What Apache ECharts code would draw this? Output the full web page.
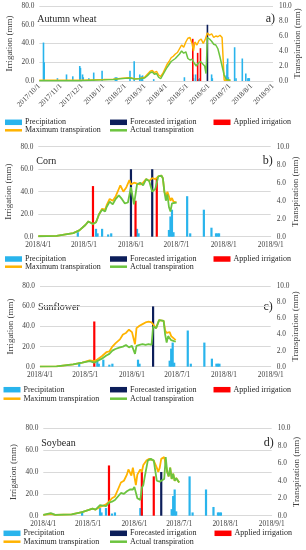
<!DOCTYPE html>
<html>
<head>
<meta charset="utf-8">
<script src="https://cdn.jsdelivr.net/npm/echarts@6/dist/echarts.min.js"></script>
<style>html,body{margin:0;padding:0;background:#fff}#c{width:306px;height:550px}</style>
</head>
<body>
<div id="c"></div>
<script>
// ---------- DATA ----------
var irrigationTicks = [0, 20, 40, 60, 80];
var transpirationTicks = [0, 2, 4, 6, 8, 10];

var precipitation = [
  ['2017-10-07',41],['2017-10-08',20],['2017-10-27',3],['2017-11-09',7],['2017-11-18',5],
  ['2017-11-28',16],['2017-11-29',14],['2017-12-02',7],['2017-12-03',4],['2017-12-11',3],
  ['2017-12-18',9],['2017-12-30',11],['2018-01-18',4],['2018-01-20',4],['2018-02-08',11],
  ['2018-02-14',21],['2018-02-22',7],['2018-02-24',5],['2018-02-26',6],['2018-03-14',2],
  ['2018-04-27',4],['2018-05-09',7],['2018-05-10',3],['2018-05-13',7],['2018-05-17',2],
  ['2018-05-19',3],['2018-06-05',7],['2018-06-06',3],['2018-06-26',6],['2018-06-27',18],
  ['2018-06-28',24],['2018-06-29',4],['2018-07-08',36],['2018-07-10',3],['2018-07-19',24],
  ['2018-07-24',8],['2018-07-27',3],['2018-07-28',3],['2018-07-29',3]
];

var wheatForecast = [['2018-05-30',60]];
var wheatApplied = [['2018-05-09',45],['2018-05-16',30],['2018-05-20',35]];
var wheatMaxT = [
  ['2017-10-01',0.1],['2017-11-01',0.1],['2017-12-01',0.1],['2017-12-15',0.15],['2018-01-01',0.2],
  ['2018-01-15',0.25],['2018-01-25',0.35],['2018-02-01',0.4],['2018-02-08',0.45],['2018-02-15',0.3],
  ['2018-02-22',0.35],['2018-03-01',0.5],['2018-03-05',0.9],['2018-03-09',1.3],['2018-03-12',1.4],
  ['2018-03-15',1.1],['2018-03-18',1.3],['2018-03-21',0.8],['2018-03-24',0.6],['2018-03-27',1.0],
  ['2018-03-30',1.6],['2018-04-02',2.2],['2018-04-05',2.6],['2018-04-08',3.1],['2018-04-11',3.3],
  ['2018-04-14',3.6],['2018-04-17',3.8],['2018-04-20',4.3],['2018-04-23',4.8],['2018-04-26',4.5],
  ['2018-04-29',5.2],['2018-05-02',5.7],['2018-05-05',5.8],['2018-05-08',5.0],['2018-05-10',4.0],
  ['2018-05-12',5.2],['2018-05-15',4.8],['2018-05-18',5.4],['2018-05-21',5.6],['2018-05-24',5.0],
  ['2018-05-27',5.6],['2018-05-30',6.4],['2018-06-02',6.1],['2018-06-05',6.3],['2018-06-08',5.8],
  ['2018-06-11',6.0],['2018-06-14',5.9],['2018-06-17',6.1],['2018-06-20',5.8],['2018-06-22',5.9],
  ['2018-06-23',0.1],['2018-07-02',0.1]
];
var wheatActT = [
  ['2017-10-01',0.05],['2017-11-01',0.05],['2017-12-01',0.05],['2017-12-15',0.1],['2018-01-01',0.15],
  ['2018-01-15',0.2],['2018-01-25',0.3],['2018-02-01',0.35],['2018-02-08',0.4],['2018-02-15',0.25],
  ['2018-02-22',0.3],['2018-03-01',0.4],['2018-03-05',0.7],['2018-03-09',1.1],['2018-03-12',1.2],
  ['2018-03-15',0.9],['2018-03-18',1.0],['2018-03-21',0.5],['2018-03-24',0.3],['2018-03-27',0.8],
  ['2018-03-30',1.3],['2018-04-02',1.8],['2018-04-05',2.2],['2018-04-08',2.6],['2018-04-11',2.8],
  ['2018-04-14',3.0],['2018-04-17',3.3],['2018-04-20',3.6],['2018-04-23',4.0],['2018-04-26',3.7],
  ['2018-04-29',3.9],['2018-05-02',3.0],['2018-05-05',2.8],['2018-05-08',2.9],['2018-05-11',2.4],
  ['2018-05-14',2.0],['2018-05-17',2.4],['2018-05-20',2.6],['2018-05-23',2.3],['2018-05-26',2.0],
  ['2018-05-28',1.0],['2018-05-30',5.8],['2018-06-02',5.6],['2018-06-05',5.3],['2018-06-08',4.9],
  ['2018-06-11',4.8],['2018-06-14',4.3],['2018-06-17',3.2],['2018-06-20',2.0],['2018-06-23',0.8],
  ['2018-06-26',0.2],['2018-07-02',0.1]
];

var cornForecast = [['2018-06-01',60],['2018-06-15',60]];
var cornApplied = [['2018-05-07',45],['2018-06-04',32],['2018-06-18',52]];
var cornMaxT = [
  ['2018-04-01',0.05],['2018-04-13',0.1],['2018-04-17',0.2],['2018-04-24',0.4],['2018-04-28',0.7],
  ['2018-05-02',1.3],['2018-05-04',1.7],['2018-05-05',1.8],['2018-05-07',1.4],['2018-05-09',1.6],
  ['2018-05-11',2.5],['2018-05-13',3.1],['2018-05-15',3.0],['2018-05-16',3.5],['2018-05-18',4.2],
  ['2018-05-20',4.0],['2018-05-22',4.5],['2018-05-24',5.3],['2018-05-25',5.7],['2018-05-27',5.0],
  ['2018-05-29',5.5],['2018-05-31',6.3],['2018-06-01',5.8],['2018-06-03',6.0],['2018-06-05',5.9],
  ['2018-06-07',5.8],['2018-06-09',6.0],['2018-06-11',6.4],['2018-06-13',6.2],['2018-06-15',6.5],
  ['2018-06-17',6.4],['2018-06-19',6.7],['2018-06-21',6.8],['2018-06-22',6.5],['2018-06-23',5.0],
  ['2018-06-24',4.5],['2018-06-25',5.0],['2018-06-26',4.5],['2018-06-27',4.0],['2018-06-28',4.3],
  ['2018-06-29',3.9],['2018-07-01',3.8]
];
var cornActT = [
  ['2018-04-01',0.05],['2018-04-13',0.1],['2018-04-17',0.2],['2018-04-24',0.4],['2018-04-28',0.7],
  ['2018-05-02',1.3],['2018-05-04',1.7],['2018-05-05',1.8],['2018-05-07',1.4],['2018-05-09',1.6],
  ['2018-05-11',2.5],['2018-05-13',3.0],['2018-05-15',2.8],['2018-05-16',3.3],['2018-05-18',3.9],
  ['2018-05-20',3.6],['2018-05-22',4.2],['2018-05-24',4.6],['2018-05-26',4.2],['2018-05-28',3.7],
  ['2018-05-30',3.8],['2018-06-01',5.5],['2018-06-03',3.6],['2018-06-05',5.8],['2018-06-07',6.0],
  ['2018-06-09',5.7],['2018-06-11',6.4],['2018-06-13',6.2],['2018-06-15',5.0],['2018-06-17',5.3],
  ['2018-06-19',6.7],['2018-06-21',6.8],['2018-06-22',6.5],['2018-06-23',5.0],['2018-06-24',4.0],
  ['2018-06-25',4.7],['2018-06-26',3.3],['2018-06-27',2.8],['2018-06-28',3.7],['2018-06-29',3.5],
  ['2018-07-01',3.8]
];

var sunForecast = [['2018-06-15',60]];
var sunApplied = [['2018-05-07',45]];
var sunMaxT = [
  ['2018-04-01',0.02],['2018-04-12',0.05],['2018-04-23',0.3],['2018-04-29',0.5],['2018-05-04',0.8],
  ['2018-05-07',0.7],['2018-05-09',0.9],['2018-05-12',1.3],['2018-05-15',1.8],['2018-05-17',1.9],
  ['2018-05-19',2.5],['2018-05-21',2.9],['2018-05-24',3.4],['2018-05-26',4.0],['2018-05-28',4.2],
  ['2018-05-30',4.6],['2018-06-01',4.3],['2018-06-03',2.8],['2018-06-04',4.8],['2018-06-06',5.1],
  ['2018-06-08',5.3],['2018-06-10',5.5],['2018-06-12',5.6],['2018-06-14',5.5],['2018-06-15',5.3],
  ['2018-06-17',4.8],['2018-06-18',5.3],['2018-06-19',5.8],['2018-06-22',5.7],['2018-06-23',4.5],
  ['2018-06-24',4.2],['2018-06-25',4.0],['2018-06-26',4.3],['2018-06-27',3.8],['2018-06-28',3.8],
  ['2018-06-30',3.3]
];
var sunActT = [
  ['2018-04-01',0.02],['2018-04-12',0.05],['2018-04-23',0.3],['2018-04-29',0.5],['2018-05-04',0.7],
  ['2018-05-07',0.5],['2018-05-09',0.7],['2018-05-12',1.0],['2018-05-15',1.4],['2018-05-17',1.6],
  ['2018-05-19',2.0],['2018-05-21',2.2],['2018-05-24',2.4],['2018-05-26',2.5],['2018-05-28',2.7],
  ['2018-05-30',2.4],['2018-06-01',2.6],['2018-06-03',1.6],['2018-06-04',2.6],['2018-06-06',2.7],
  ['2018-06-08',2.8],['2018-06-10',2.7],['2018-06-12',2.8],['2018-06-14',2.7],['2018-06-15',5.0],
  ['2018-06-17',4.8],['2018-06-18',5.3],['2018-06-19',5.8],['2018-06-22',5.7],['2018-06-23',4.0],
  ['2018-06-24',3.0],['2018-06-25',3.8],['2018-06-26',4.0],['2018-06-27',3.3],['2018-06-28',3.5],
  ['2018-06-30',3.1]
];

var soyForecast = [['2018-06-19',40]];
var soyApplied = [['2018-05-15',46],['2018-06-06',40],['2018-06-14',36]];
var soyMaxT = [
  ['2018-04-01',0.1],['2018-04-06',0.2],['2018-04-09',0.1],['2018-04-20',0.15],['2018-04-27',0.4],
  ['2018-05-04',0.8],['2018-05-06',0.7],['2018-05-09',1.0],['2018-05-13',1.3],['2018-05-15',1.6],
  ['2018-05-17',2.0],['2018-05-19',2.2],['2018-05-21',3.0],['2018-05-23',3.8],['2018-05-25',4.0],
  ['2018-05-27',4.7],['2018-05-28',5.3],['2018-05-30',4.6],['2018-05-31',5.5],['2018-06-02',3.5],
  ['2018-06-03',4.7],['2018-06-05',5.3],['2018-06-06',5.0],['2018-06-07',5.8],['2018-06-09',6.3],
  ['2018-06-11',6.5],['2018-06-14',6.3],['2018-06-16',5.5],['2018-06-17',5.0],['2018-06-18',5.5],
  ['2018-06-19',6.5],['2018-06-21',6.7],['2018-06-22',6.7],['2018-06-23',5.0],['2018-06-24',4.5],
  ['2018-06-25',5.5],['2018-06-26',4.2],['2018-06-27',4.8],['2018-06-28',4.0],['2018-06-29',4.3],
  ['2018-07-01',3.8]
];
var soyActT = [
  ['2018-04-01',0.1],['2018-04-06',0.3],['2018-04-09',0.1],['2018-04-20',0.15],['2018-04-27',0.4],
  ['2018-05-04',0.8],['2018-05-06',0.7],['2018-05-09',1.2],['2018-05-13',1.1],['2018-05-15',1.5],
  ['2018-05-17',1.6],['2018-05-19',1.8],['2018-05-21',2.2],['2018-05-23',2.6],['2018-05-25',2.5],
  ['2018-05-27',2.8],['2018-05-29',3.0],['2018-05-31',3.0],['2018-06-01',3.3],['2018-06-03',2.0],
  ['2018-06-05',1.8],['2018-06-06',3.2],['2018-06-07',3.5],['2018-06-08',4.5],['2018-06-10',6.3],
  ['2018-06-12',6.5],['2018-06-14',6.3],['2018-06-16',4.0],['2018-06-18',3.9],['2018-06-19',4.0],
  ['2018-06-21',4.2],['2018-06-22',6.7],['2018-06-23',5.0],['2018-06-24',4.5],['2018-06-25',5.5],
  ['2018-06-26',4.2],['2018-06-27',4.8],['2018-06-28',4.0],['2018-06-29',4.3],['2018-07-01',3.8]
];

var cropNames = ['Autumn wheat', 'Corn', 'Sunflower', 'Soybean'];
var panelTags = ['a)', 'b)', 'c)', 'd)'];
var seriesNames = ['Precipitation', 'Forecasted irrigation', 'Applied irrigation', 'Maximum transpiration', 'Actual transpiration'];
var dateRanges = [['2017-10-01','2018-09-01'],['2018-04-01','2018-09-01'],['2018-04-01','2018-09-01'],['2018-04-01','2018-09-01']];

// ---------- LAYOUT / STYLE ----------
var SERIF = '"Liberation Serif","DejaVu Serif",serif';
var colors = {p:'#29B4EC', f:'#0C1E5A', a:'#FF0000', m:'#FFB300', t:'#6CC43F'};
var panels = [
  {left:39.3, right:273, top:6, bottom:81, rotate:45, legTop:[118.3,126.3], colX:[5,110,213.5], titleY:20.5, barW:1.6, lw:1.5},
  {left:38.3, right:270.7, top:146.7, bottom:236.7, rotate:0, legTop:[255,262.7], colX:[5,110,213.5], titleY:162.3, barW:2.2, lw:1.8},
  {left:40, right:270.7, top:286.3, bottom:366.7, rotate:0, legTop:[385.7,394.7], colX:[3.5,110,213.5], titleY:308.3, barW:2.2, lw:1.8},
  {left:43.3, right:271.7, top:428.3, bottom:515.7, rotate:0, legTop:[529.3,537.7], colX:[3.5,110,214.5], titleY:444.5, barW:2.2, lw:1.8}
];
var dataSets = [
  [precipitation, wheatForecast, wheatApplied, wheatMaxT, wheatActT],
  [precipitation, cornForecast, cornApplied, cornMaxT, cornActT],
  [precipitation, sunForecast, sunApplied, sunMaxT, sunActT],
  [precipitation, soyForecast, soyApplied, soyMaxT, soyActT]
];

var DAY = 86400000;
function ts(s) { var p = s.split('-'); return Date.UTC(+p[0], +p[1] - 1, +p[2]); }
function toPoints(arr, lo, hi) {
  var out = [];
  arr.forEach(function (d) { var t = ts(d[0]); if (t >= lo && t <= hi) out.push([t, d[1]]); });
  return out;
}
function dateLabel(v) {
  var d = new Date(v);
  if (d.getUTCDate() !== 1) return '';
  return d.getUTCFullYear() + '/' + (d.getUTCMonth() + 1) + '/1';
}

var grids = [], xAxes = [], yAxes = [], series = [], legends = [], graphics = [];
panels.forEach(function (p, i) {
  var lo = ts(dateRanges[i][0]), hi = ts(dateRanges[i][1]);
  grids.push({left:p.left, top:p.top, width:p.right - p.left, height:p.bottom - p.top, containLabel:false, outerBoundsMode:'none'});
  xAxes.push({
    type:'value', gridIndex:i, min:lo, max:hi, interval:DAY,
    axisLine:{show:true, onZero:false, lineStyle:{color:'#d9d9d9', width:1}},
    axisTick:{show:false}, splitLine:{show:false},
    axisLabel:{formatter:dateLabel, rotate:p.rotate, fontSize:7.3, fontFamily:SERIF, color:'#404040',
      margin: p.rotate ? 4 : 5, hideOverlap:false, showMinLabel:true, showMaxLabel:true}
  });
  yAxes.push({
    type:'value', gridIndex:i, min:irrigationTicks[0], max:irrigationTicks[irrigationTicks.length-1], interval:irrigationTicks[1]-irrigationTicks[0],
    name:'Irrigation (mm)', nameLocation:'middle', nameRotate:90, nameGap:25, nameMoveOverlap:false,
    nameTextStyle:{fontSize:9, fontFamily:SERIF, color:'#404040'},
    axisLine:{show:false}, axisTick:{show:false},
    splitLine:{show:true, lineStyle:{color:'#d9d9d9', width:1}},
    axisLabel:{formatter:function(v){return v.toFixed(1);}, fontSize:7.3, fontFamily:SERIF, color:'#404040', margin:5}
  });
  yAxes.push({
    type:'value', gridIndex:i, position:'right', min:transpirationTicks[0], max:transpirationTicks[transpirationTicks.length-1], interval:transpirationTicks[1]-transpirationTicks[0],
    name:'Transpiration (mm)', nameLocation:'middle', nameRotate:90, nameGap:20, nameMoveOverlap:false,
    nameTextStyle:{fontSize:9, fontFamily:SERIF, color:'#404040'},
    axisLine:{show:false}, axisTick:{show:false}, splitLine:{show:false},
    axisLabel:{formatter:function(v){return v.toFixed(1);}, fontSize:7.3, fontFamily:SERIF, color:'#404040', margin:6}
  });
  var ds = dataSets[i];
  var barColors = [colors.p, colors.f, colors.a];
  for (var k = 0; k < 3; k++) {
    series.push({name:seriesNames[k], type:'bar', xAxisIndex:i, yAxisIndex:2*i, data:toPoints(ds[k], lo, hi),
      barWidth:p.barW, barGap:'-100%', itemStyle:{color:barColors[k]}, silent:true});
  }
  series.push({name:seriesNames[3], type:'line', xAxisIndex:i, yAxisIndex:2*i+1, data:toPoints(ds[3], lo, hi),
    showSymbol:false, symbol:'none', lineStyle:{color:colors.m, width:p.lw}, itemStyle:{color:colors.m}, silent:true});
  series.push({name:seriesNames[4], type:'line', xAxisIndex:i, yAxisIndex:2*i+1, data:toPoints(ds[4], lo, hi),
    showSymbol:false, symbol:'none', lineStyle:{color:colors.t, width:p.lw}, itemStyle:{color:colors.t}, silent:true});

  var pos = [[0,0],[1,0],[2,0],[0,1],[1,1]];
  for (var n = 0; n < 5; n++) {
    var isLine = n >= 3;
    legends.push({
      left:p.colX[pos[n][0]], top:p.legTop[pos[n][1]], padding:0, itemGap:0,
      itemWidth:17, itemHeight: isLine ? 2.5 : 5.5, icon:'rect', selectedMode:false,
      data:[{name:seriesNames[n], icon:'rect'}],
      textStyle:{fontSize:8, fontFamily:SERIF, color:'#262626', padding:[0,0,0,-2]}
    });
  }
  graphics.push({type:'text', left:p.left - 2, top:p.titleY - 6,
    style:{text:cropNames[i], font:'10px ' + SERIF, fill:'#262626'}});
  graphics.push({type:'text', right: 306 - p.right - 2, top:p.titleY - 7.5,
    style:{text:panelTags[i], font:'12px ' + SERIF, fill:'#262626'}});
});

var chart = echarts.init(document.getElementById('c'), null, {renderer:'canvas'});
chart.setOption({
  animation:false,
  backgroundColor:'#ffffff',
  grid:grids, xAxis:xAxes, yAxis:yAxes, series:series, legend:legends, graphic:graphics
});
</script>
</body>
</html>
